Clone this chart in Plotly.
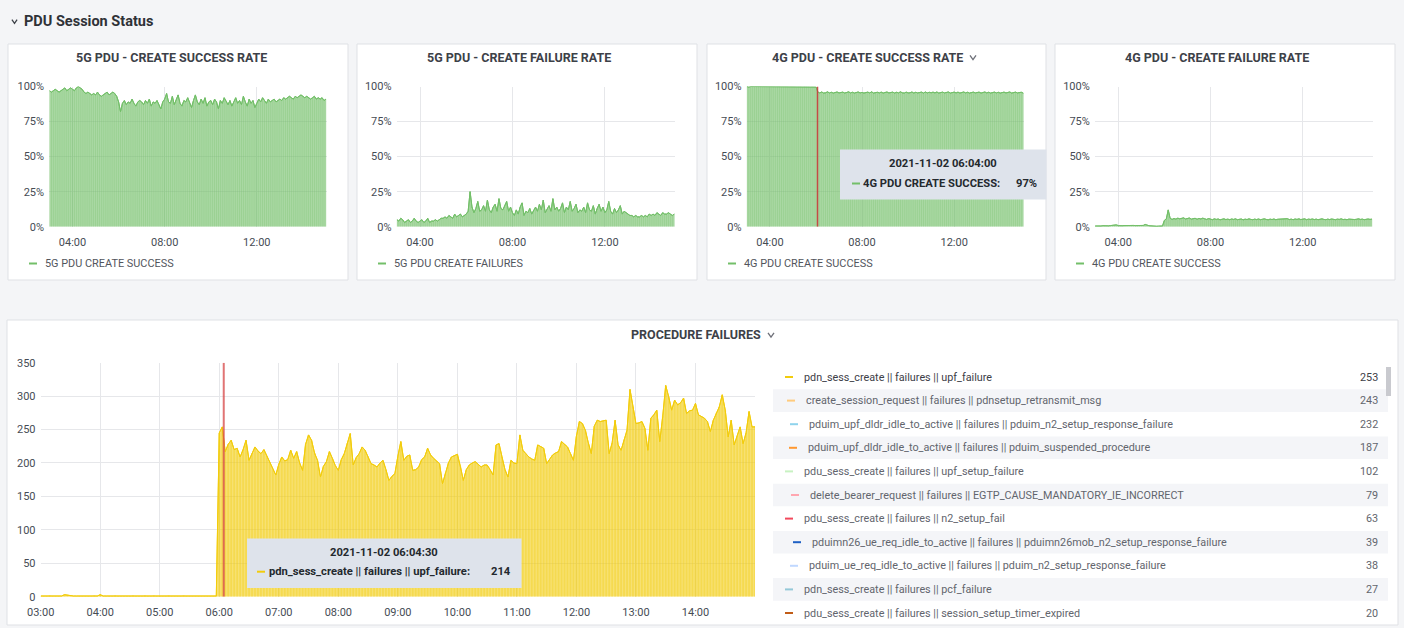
import pandas as pd
import plotly.graph_objects as go

# ------------------------------------------------------------------ data
TOP_START = "2021-11-02 03:00"          # 5-minute samples
BOTTOM_START = "2021-11-02 03:00"       # 3-minute samples

g5_success = [
    97, 96, 97, 98, 97, 96, 97, 98, 99, 97, 98, 99,
    98, 97, 99, 100, 99, 98,
    96, 95, 96, 95, 94, 95, 94, 96, 94, 93, 94, 95, 96, 94, 95, 96, 95, 93,
    89, 82, 88, 90, 87, 89, 88, 91, 88, 86, 89, 90,
    89, 87, 90, 88, 91, 86, 89, 88, 90, 87, 84, 89,
    91, 95, 89, 88, 93, 87, 90, 94, 88, 86, 90, 89,
    92, 88, 85, 90, 94, 89, 87, 91, 88, 92, 86, 89,
    90, 87, 91, 89, 84, 90, 88, 92, 89, 87, 90, 86,
    89, 92, 88, 90, 87, 93, 89, 86, 91, 88, 90, 85,
    88, 91, 89, 92, 90, 88, 91, 89, 90, 91, 89, 90,
    91, 90, 92, 91, 92, 93, 92, 91, 93, 92, 93, 94,
    93, 92, 93, 92, 91, 92, 93, 91, 92, 91, 92, 90, 91,
]

g5_failure = [
    5, 4, 6, 5, 3, 4, 5, 3, 4, 6, 4, 3,
    4, 5, 3, 4, 6, 3, 4, 4, 5, 4, 5, 6,
    6, 7, 6, 8, 7, 6, 9, 7, 8, 9, 7, 8,
    9, 11, 25, 14, 10, 13, 18, 11, 12, 15, 11, 19,
    12, 10, 14, 16, 11, 20, 13, 12, 15, 18, 11, 14,
    10, 8, 12, 9, 14, 17, 8, 11, 10, 13, 9, 12,
    14, 11, 16, 12, 19, 10, 13, 15, 11, 20, 12, 14,
    11, 13, 17, 10, 14, 12, 18, 11, 13, 16, 10, 12,
    11, 14, 10, 17, 12, 11, 15, 9, 13, 16, 11, 14,
    10, 12, 18, 11, 9, 13, 10, 12, 15, 9, 11, 10,
    9, 8, 8, 7, 8, 7, 7, 8, 7, 8, 7, 9,
    8, 9, 8, 10, 9, 8, 10, 9, 9, 10, 9, 8, 9,
]

g4_success = [
    100, 99.6, 100, 100, 99.7, 100, 100, 100, 99.6, 100, 100, 99.7,
    100, 100, 100, 99.6, 100, 100, 99.7, 100, 100, 100, 99.6, 100,
    100, 100, 99.7, 100, 100, 99.6, 100, 100, 100, 99.7, 100, 100, 99.6,
    96.0, 95.4, 96.1, 95.3, 95.5, 96.2, 95.4, 95.9, 95.3, 95.5, 96.1, 95.4,
    95.6, 96.0, 95.3, 95.5, 96.2, 95.4, 95.9, 95.3, 95.6, 96.1, 95.4, 95.8,
    95.3, 95.5, 96.0, 95.4, 96.2, 95.3, 95.6, 95.9, 95.4, 96.0, 95.3, 95.5,
    96.1, 95.4, 95.5, 96.0, 95.3, 95.9, 95.4, 96.2, 95.5, 95.3, 96.0, 95.4,
    95.5, 96.1, 95.3, 95.9, 95.4, 95.6, 96.0, 95.3, 96.1, 95.4, 95.9, 95.5,
    96.0, 95.4, 96.1, 95.3, 95.5, 96.0, 95.4, 95.6, 96.1, 95.3, 95.5, 96.0,
    95.4, 96.0, 95.3, 95.5, 96.1, 95.4, 95.9, 95.3, 95.6, 96.0, 95.4, 95.5,
    96.0, 95.3, 95.5, 96.1, 95.4, 95.9, 95.3, 95.5, 96.0, 95.4, 95.9, 95.3,
    95.5, 96.0, 95.4, 95.5, 96.1, 95.3, 95.5, 96.0, 95.4, 95.5, 95.9, 95.3,
]

g4_failure = [
    0.5, 0.4, 0.6, 0.5, 0.7, 0.5, 0.4, 0.6, 0.8, 0.9, 1.0, 1.3,
    0.8, 0.6, 0.7, 0.8, 0.9, 0.6, 0.7, 0.8, 0.9, 0.8, 0.7, 0.6,
    0.8, 0.9, 1.6, 0.9, 0.7, 0.6, 0.4, 0.3, 0.3, 0.4, 0.3, 0.5,
    4.5, 5.5, 12.0, 6.0, 5.2, 5.8, 5.4, 6.1, 5.6, 5.9, 6.3, 5.5,
    5.8, 6.2, 5.4, 5.7, 6.0, 5.3, 5.9, 5.5, 6.1, 5.6, 5.2, 5.8,
    5.4, 5.0, 5.6, 5.2, 5.5, 4.9, 5.3, 5.6, 5.1, 5.4, 5.0, 5.5,
    5.2, 5.6, 5.0, 5.3, 5.5, 4.9, 5.4, 5.1, 5.6, 5.2, 5.0, 5.4,
    5.1, 5.5, 5.0, 5.3, 5.6, 5.2, 4.9, 5.4, 5.1, 5.5, 5.0, 5.3,
    5.4, 5.0, 5.5, 5.2, 5.7, 5.1, 5.4, 5.0, 5.5, 5.2, 5.6, 5.1,
    5.3, 5.6, 5.0, 5.4, 5.2, 5.5, 5.1, 5.4, 5.0, 5.3, 5.6, 5.2,
    5.0, 5.4, 5.1, 5.5, 5.3, 5.0, 5.4, 5.2, 5.6, 5.1, 5.3, 5.0,
    5.4, 5.2, 5.5, 5.1, 5.3, 5.6, 5.2, 5.4, 5.0, 5.3, 5.5, 5.2, 5.4,
]

upf_failure = [
    1, 1, 1, 2, 1, 1, 1, 1, 3, 2,
    1, 1, 1, 1, 1, 1, 1, 1, 2, 1,
    3, 1, 1, 1, 1, 2, 1, 1, 1, 1,
    1, 2, 1, 1, 1, 2, 1, 1, 2, 1,
    1, 1, 1, 2, 1, 1, 1, 1, 2, 1,
    1, 1, 1, 1, 1, 1, 1, 1, 1, 1,
    245, 254, 217, 228, 234, 220, 222, 209, 220, 234,
    204, 215, 224, 218, 214, 220, 210, 202, 190, 182,
    198, 209, 203, 205, 219, 207, 217, 200, 189, 228,
    242, 234, 215, 204, 179, 195, 202, 217, 207, 196,
    189, 205, 214, 230, 244, 197, 208, 214, 224, 219,
    210, 199, 197, 194, 200, 204, 190, 174, 180, 184,
    210, 232, 204, 210, 212, 189, 190, 194, 205, 209,
    222, 212, 207, 203, 199, 169, 185, 200, 209, 211,
    213, 195, 174, 190, 197, 200, 202, 198, 194, 197,
    197, 190, 182, 227, 229, 209, 190, 179, 204, 200,
    199, 242, 219, 214, 209, 206, 204, 227, 225, 222,
    199, 205, 212, 215, 217, 232, 228, 224, 214, 204,
    240, 262, 259, 249, 230, 214, 255, 264, 262, 263,
    264, 214, 230, 264, 227, 219, 235, 249, 310, 284,
    259, 260, 262, 252, 219, 267, 272, 279, 232, 270,
    316, 299, 279, 294, 287, 290, 297, 274, 278, 279,
    289, 272, 270, 267, 262, 247, 264, 275, 284, 302,
    279, 239, 264, 227, 240, 254, 229, 245, 277, 254,
    254,
]

top_titles = ["5G PDU - CREATE SUCCESS RATE", "5G PDU - CREATE FAILURE RATE",
              "4G PDU - CREATE SUCCESS RATE", "4G PDU - CREATE FAILURE RATE"]
top_legends = ["5G PDU CREATE SUCCESS", "5G PDU CREATE FAILURES",
               "4G PDU CREATE SUCCESS", "4G PDU CREATE SUCCESS"]
pct_ticks = [0, 25, 50, 75, 100]
pct_labels = ["0%", "25%", "50%", "75%", "100%"]
top_time_labels = ["04:00", "08:00", "12:00"]
bottom_time_labels = ["03:00", "04:00", "05:00", "06:00", "07:00", "08:00",
                      "09:00", "10:00", "11:00", "12:00", "13:00", "14:00"]
count_ticks = [0, 50, 100, 150, 200, 250, 300, 350]

legend_names = [
    "pdn_sess_create || failures || upf_failure",
    "create_session_request || failures || pdnsetup_retransmit_msg",
    "pduim_upf_dldr_idle_to_active || failures || pduim_n2_setup_response_failure",
    "pduim_upf_dldr_idle_to_active || failures || pduim_suspended_procedure",
    "pdu_sess_create || failures || upf_setup_failure",
    "delete_bearer_request || failures || EGTP_CAUSE_MANDATORY_IE_INCORRECT",
    "pdu_sess_create || failures || n2_setup_fail",
    "pduimn26_ue_req_idle_to_active || failures || pduimn26mob_n2_setup_response_failure",
    "pduim_ue_req_idle_to_active || failures || pduim_n2_setup_response_failure",
    "pdn_sess_create || failures || pcf_failure",
    "pdu_sess_create || failures || session_setup_timer_expired",
]
legend_values = [253, 243, 232, 187, 102, 79, 63, 39, 38, 27, 20]
legend_colors = ["#F2CC0C", "#FFCB7D", "#8FD3EC", "#FF9830", "#C8F2C2", "#FFA6B0",
                 "#F2495C", "#1F60C4", "#C0D8FF", "#94C8D8", "#C15C17"]

tooltip_top = ("2021-11-02 06:04:00", "4G PDU CREATE SUCCESS:", "97%")
tooltip_bottom = ("2021-11-02 06:04:30", "pdn_sess_create || failures || upf_failure:", "214")

# ------------------------------------------------------------------ layout helpers (style only)
W, H = 1404, 628
def X(px):
    return px / W
def Y(py):
    return 1 - py / H

FONT = "Roboto, 'Noto Sans', sans-serif"
TXT = "#464c54"
GRID = "#e6e7ea"
GREEN = "#73BF69"
YELLOW = "#F2CC0C"
DAY = "2021-11-02 "

legend_indent = [0, 2, 5, 4, 0, 6, 0, 8, 5, 0, 0]   # small per-row offsets seen in the table
title_centers = [171, 519, 867, 1216.5]

top_times = pd.date_range(TOP_START, periods=len(g5_success), freq="5min")
bottom_times = pd.date_range(BOTTOM_START, periods=len(upf_failure), freq="3min")

panel_boxes = [(8, 44, 348, 280), (357, 44, 697, 280), (707, 44, 1046, 280), (1055, 44, 1395, 280)]
plot_x = [(49.3, 326.7), (396.7, 675), (746.7, 1024), (1095, 1372.7)]
PLOT_TOP, PLOT_BOT = 86.5, 226.7

fig = go.Figure()
shapes = []
ann = []

def chevron(cx, cy, color, w=3.0, h=2.2):
    shapes.append(dict(type="path", xref="paper", yref="paper",
                       path="M {} {} L {} {} L {} {}".format(X(cx - w), Y(cy - h), X(cx), Y(cy + h),
                                                            X(cx + w), Y(cy - h)),
                       line=dict(color=color, width=1.3)))

# page panels
for (x0, y0, x1, y1) in panel_boxes + [(7, 320, 1398, 625)]:
    shapes.append(dict(type="rect", xref="paper", yref="paper", layer="below",
                       x0=X(x0), x1=X(x1), y0=Y(y1), y1=Y(y0),
                       fillcolor="white", line=dict(color="#dfe1e5", width=1)))

tickfont = dict(family=FONT, size=11, color=TXT)
series = [g5_success, g5_failure, g4_success, g4_failure]
for k, vals in enumerate(series):
    sfx = "" if k == 0 else str(k + 1)
    fig.add_trace(go.Scatter(x=top_times, y=vals, xaxis="x" + sfx, yaxis="y" + sfx,
                             mode="lines", line=dict(color=GREEN, width=1),
                             fill="tozeroy", fillcolor="rgba(115,191,105,0.58)",
                             hoverinfo="skip", showlegend=False))
    fig.add_trace(go.Bar(x=top_times, y=vals, xaxis="x" + sfx, yaxis="y" + sfx,
                         marker=dict(color="rgba(115,191,105,0.33)", line=dict(width=0)),
                         hoverinfo="skip", showlegend=False))
    fig.add_trace(go.Scatter(x=top_times, y=vals, xaxis="x" + sfx, yaxis="y" + sfx,
                             mode="lines", line=dict(color=GREEN, width=1),
                             hoverinfo="skip", showlegend=False))
    x0, x1 = plot_x[k]
    fig.layout["xaxis" + sfx] = dict(
        domain=[X(x0), X(x1)], anchor="y" + sfx, automargin=False,
        range=[DAY + "02:59:30", DAY + "15:02"],
        tickmode="array", tickvals=[DAY + t for t in top_time_labels], ticktext=top_time_labels,
        showgrid=True, gridcolor=GRID, zeroline=False, showline=False,
        ticks="outside", ticklen=5, tickcolor="rgba(0,0,0,0)",
        tickfont=tickfont, fixedrange=True)
    fig.layout["yaxis" + sfx] = dict(
        domain=[Y(PLOT_BOT), Y(PLOT_TOP)], anchor="x" + sfx, range=[0, 100], automargin=False,
        tickmode="array", tickvals=pct_ticks, ticktext=pct_labels,
        showgrid=True, gridcolor=GRID, zeroline=False, showline=False,
        ticks="outside", ticklen=2, tickcolor="rgba(0,0,0,0)",
        tickfont=tickfont, fixedrange=True)
    bx0, by0, bx1, by1 = panel_boxes[k]
    ann.append(dict(xref="paper", yref="paper", x=X(title_centers[k]), y=Y(57),
                    xanchor="center", yanchor="middle", showarrow=False,
                    text="<b>" + top_titles[k] + "</b>",
                    font=dict(family=FONT, size=12.5, color="#3d4148")))
    shapes.append(dict(type="line", xref="paper", yref="paper", x0=X(bx0 + 21), x1=X(bx0 + 29),
                       y0=Y(263.5), y1=Y(263.5), line=dict(color=GREEN, width=2)))
    ann.append(dict(xref="paper", yref="paper", x=X(bx0 + 35), y=Y(263.5),
                    xanchor="left", yanchor="middle", showarrow=False, text=top_legends[k],
                    font=dict(family=FONT, size=10.9, color="#52555c")))
chevron(973, 57.5, "#6e7079")

# bottom chart
fig.add_trace(go.Scatter(x=bottom_times, y=upf_failure, xaxis="x5", yaxis="y5",
                         mode="lines", line=dict(color=YELLOW, width=1),
                         fill="tozeroy", fillcolor="rgba(242,204,12,0.58)",
                         hoverinfo="skip", showlegend=False))
fig.add_trace(go.Bar(x=bottom_times, y=upf_failure, xaxis="x5", yaxis="y5",
                     marker=dict(color="rgba(242,204,12,0.33)", line=dict(width=0)),
                     hoverinfo="skip", showlegend=False))
fig.add_trace(go.Scatter(x=bottom_times, y=upf_failure, xaxis="x5", yaxis="y5",
                         mode="lines", line=dict(color=YELLOW, width=1),
                         hoverinfo="skip", showlegend=False))
fig.layout["xaxis5"] = dict(
    domain=[X(40.7), X(755)], anchor="y5", range=[DAY + "03:00", DAY + "15:00"], automargin=False,
    tickmode="array", tickvals=[DAY + t for t in bottom_time_labels], ticktext=bottom_time_labels,
    showgrid=True, gridcolor=GRID, zeroline=False, showline=False,
    ticks="outside", ticklen=5, tickcolor="rgba(0,0,0,0)",
    tickfont=tickfont, fixedrange=True)
fig.layout["yaxis5"] = dict(
    domain=[Y(596.7), Y(362.7)], anchor="x5", range=[0, 350], automargin=False,
    tickmode="array", tickvals=count_ticks,
    showgrid=True, gridcolor=GRID, zeroline=False, showline=False,
    ticks="outside", ticklen=2, tickcolor="rgba(0,0,0,0)",
    tickfont=tickfont, fixedrange=True)

# red cross-hair lines
shapes.append(dict(type="line", xref="x3", yref="y3", x0=DAY + "06:04:00", x1=DAY + "06:04:00",
                   y0=0, y1=100, line=dict(color="rgba(200,60,60,0.9)", width=1.5)))
shapes.append(dict(type="line", xref="x5", yref="y5", x0=DAY + "06:04:30", x1=DAY + "06:04:30",
                   y0=0, y1=350, line=dict(color="rgba(215,70,70,0.75)", width=2)))

# header
chevron(14.5, 21.5, "#3d4148", w=2.6, h=1.8)
ann.append(dict(xref="paper", yref="paper", x=X(22), y=Y(22), xanchor="left", yanchor="middle",
                showarrow=False, text="<b>PDU Session Status</b>",
                font=dict(family=FONT, size=14.5, color="#2f3237")))

# bottom title
ann.append(dict(xref="paper", yref="paper", x=X(696), y=Y(334.5), xanchor="center", yanchor="middle",
                showarrow=False, text="<b>PROCEDURE FAILURES</b>",
                font=dict(family=FONT, size=12.5, color="#3d4148")))
chevron(771, 335, "#6e7079")

# tooltips
def tooltip(box, date_y, row_y, dash_x, text_x, val_x, content, color):
    x0, y0, x1, y1 = box
    shapes.append(dict(type="rect", xref="paper", yref="paper", x0=X(x0), x1=X(x1),
                       y0=Y(y1), y1=Y(y0), fillcolor="#dee3eb", line=dict(width=0)))
    ann.append(dict(xref="paper", yref="paper", x=X((x0 + x1) / 2), y=Y(date_y),
                    xanchor="center", yanchor="middle", showarrow=False,
                    text="<b>" + content[0] + "</b>",
                    font=dict(family=FONT, size=11.2, color="#24292e")))
    shapes.append(dict(type="line", xref="paper", yref="paper", x0=X(dash_x), x1=X(dash_x + 8),
                       y0=Y(row_y), y1=Y(row_y), line=dict(color=color, width=2)))
    ann.append(dict(xref="paper", yref="paper", x=X(text_x), y=Y(row_y),
                    xanchor="left", yanchor="middle", showarrow=False,
                    text="<b>" + content[1] + "</b>",
                    font=dict(family=FONT, size=11.2, color="#24292e")))
    ann.append(dict(xref="paper", yref="paper", x=X(val_x), y=Y(row_y),
                    xanchor="right", yanchor="middle", showarrow=False,
                    text="<b>" + content[2] + "</b>",
                    font=dict(family=FONT, size=11.2, color="#24292e")))

tooltip((840, 149.5, 1046.5, 199.5), 163.5, 183.5, 852, 861, 1039, tooltip_top, GREEN)
tooltip((247, 538.5, 521.5, 588), 552.3, 571.7, 257, 267, 513, tooltip_bottom, YELLOW)

# legend table
ROW0, ROWSTEP = 377, 23.6
for i, (name, val, col) in enumerate(zip(legend_names, legend_values, legend_colors)):
    cy = ROW0 + i * ROWSTEP
    d = legend_indent[i]
    if i % 2 == 1:
        shapes.append(dict(type="rect", xref="paper", yref="paper", layer="below",
                           x0=X(773), x1=X(1388), y0=Y(cy + 11.3), y1=Y(cy - 11.3),
                           fillcolor="#f4f5f8", line=dict(width=0)))
    shapes.append(dict(type="line", xref="paper", yref="paper", x0=X(785 + d), x1=X(793 + d),
                       y0=Y(cy), y1=Y(cy), line=dict(color=col, width=2)))
    tcol = "#3d4047" if i == 0 else "#62656d"
    ann.append(dict(xref="paper", yref="paper", x=X(802 + d), y=Y(cy), xanchor="left", yanchor="middle",
                    showarrow=False, text=name, font=dict(family=FONT, size=10.8, color=tcol)))
    ann.append(dict(xref="paper", yref="paper", x=X(1380), y=Y(cy), xanchor="right", yanchor="middle",
                    showarrow=False, text=str(val), font=dict(family=FONT, size=10.8, color=tcol)))

# scrollbar
shapes.append(dict(type="rect", xref="paper", yref="paper", x0=X(1386), x1=X(1391),
                   y0=Y(396), y1=Y(367), fillcolor="#c9cacf", line=dict(width=0)))

fig.update_layout(
    autosize=True,
    margin=dict(l=0, r=0, t=0, b=0, pad=0),
    paper_bgcolor="#f4f5f7", plot_bgcolor="rgba(0,0,0,0)",
    bargap=0.4, barmode="overlay", showlegend=False,
    shapes=shapes, annotations=ann,
    font=dict(family=FONT, color=TXT),
)

fig.write_html("out.html", config={"displayModeBar": False, "staticPlot": True},
               default_width="1404px",
               default_height="628px;position:absolute;top:0px;left:0px",
               post_script="document.body.style.margin='0px';document.body.style.overflow='hidden';")
